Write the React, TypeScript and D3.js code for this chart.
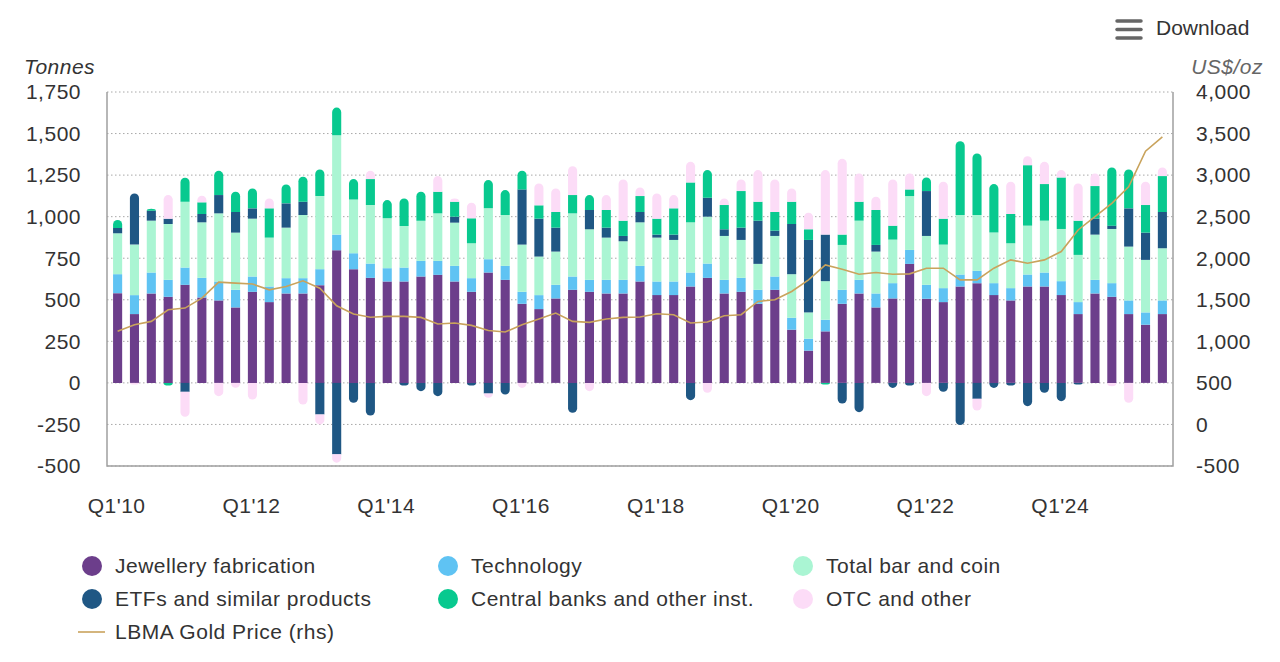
import { useMemo } from "react";
import * as d3 from "d3";

// Quarterly gold demand (tonnes), Q1'10 .. Q3'25
const quarters = [
  "Q1'10", "Q2'10", "Q3'10", "Q4'10", "Q1'11", "Q2'11", "Q3'11", "Q4'11",
  "Q1'12", "Q2'12", "Q3'12", "Q4'12", "Q1'13", "Q2'13", "Q3'13", "Q4'13",
  "Q1'14", "Q2'14", "Q3'14", "Q4'14", "Q1'15", "Q2'15", "Q3'15", "Q4'15",
  "Q1'16", "Q2'16", "Q3'16", "Q4'16", "Q1'17", "Q2'17", "Q3'17", "Q4'17",
  "Q1'18", "Q2'18", "Q3'18", "Q4'18", "Q1'19", "Q2'19", "Q3'19", "Q4'19",
  "Q1'20", "Q2'20", "Q3'20", "Q4'20", "Q1'21", "Q2'21", "Q3'21", "Q4'21",
  "Q1'22", "Q2'22", "Q3'22", "Q4'22", "Q1'23", "Q2'23", "Q3'23", "Q4'23",
  "Q1'24", "Q2'24", "Q3'24", "Q4'24", "Q1'25", "Q2'25", "Q3'25",
];

const jewellery = [
  540, 414, 538, 518, 590, 514, 496, 454, 548, 486, 538, 538, 588, 798, 684, 632,
  610, 610, 640, 650, 610, 548, 664, 620, 476, 444, 508, 560, 548, 538, 538, 610,
  528, 528, 580, 632, 538, 548, 476, 560, 320, 194, 310, 476, 538, 454, 508, 716,
  506, 486, 580, 600, 528, 496, 580, 580, 528, 414, 538, 518, 414, 350, 414,
];
const technology = [
  114, 114, 126, 102, 104, 118, 114, 106, 92, 94, 92, 92, 96, 94, 96, 86,
  80, 84, 94, 84, 94, 82, 80, 84, 72, 84, 82, 80, 72, 82, 82, 94,
  82, 82, 84, 86, 82, 84, 84, 80, 72, 72, 70, 84, 82, 84, 92, 84,
  84, 84, 72, 74, 72, 74, 72, 84, 84, 72, 82, 82, 82, 74, 82,
];
const barCoin = [
  246, 304, 312, 336, 396, 334, 410, 344, 348, 294, 304, 380, 440, 598, 324, 352,
  300, 250, 242, 286, 260, 210, 306, 306, 284, 232, 200, 380, 304, 254, 232, 262,
  264, 250, 302, 282, 264, 228, 156, 244, 262, 158, 232, 270, 356, 252, 262, 324,
  294, 262, 358, 336, 304, 270, 294, 312, 314, 284, 272, 326, 324, 316, 314,
];
const etfs = [
  32, 308, 60, 32, -54, 50, 110, 124, 62, 0, 146, 80, -190, -430, -120, -196,
  0, -16, -50, -80, 36, -16, -64, -70, 332, 228, 144, -180, 116, 60, 32, 62,
  18, 32, -104, 114, 40, 74, 260, 32, 302, 436, 280, -124, -176, 40, -30, -16,
  270, -54, -254, -96, -30, -16, -140, -60, -110, -10, 96, 20, 230, 164, 218,
];
const centralBanks = [
  48, 0, 12, -16, 144, 70, 146, 122, 120, 176, 114, 150, 160, 166, 122, 156,
  110, 166, 174, 130, 90, 150, 170, 150, 112, 80, 94, 110, 90, 106, 92, 96,
  96, 158, 240, 166, 146, 220, 114, 112, 134, 64, -10, 62, 114, 210, 84, 40,
  82, 156, 444, 370, 292, 176, 364, 220, 310, 206, 196, 350, 234, 166, 216,
];
const otc = [
  0, -10, 0, 142, -150, 40, -80, -30, -100, 60, 0, -130, -60, -50, 0, 50,
  0, 0, 0, 94, 20, 94, -26, 0, -30, 132, 142, 174, -50, 90, 248, 52,
  152, 80, 124, -60, 40, 70, 190, 196, 80, 100, 388, 456, 170, 80, 278, 96,
  -80, 222, 0, -70, 0, 194, 54, 134, 44, 224, 76, -20, -120, 140, 52,
];
// LBMA gold price, US$/oz (right axis)
const goldPrice = [
  1120, 1200, 1240, 1380, 1400, 1520, 1712, 1700, 1690, 1620, 1660, 1728, 1640, 1428, 1328, 1290,
  1300, 1300, 1288, 1208, 1220, 1192, 1130, 1112, 1200, 1268, 1340, 1240, 1228, 1268, 1288, 1292,
  1332, 1320, 1220, 1232, 1308, 1320, 1480, 1500, 1600, 1740, 1920, 1868, 1808, 1828, 1808, 1812,
  1880, 1880, 1740, 1740, 1880, 1980, 1940, 1980, 2080, 2340, 2500, 2660, 2860, 3288, 3460,
];

const leftTicks = [-500, -250, 0, 250, 500, 750, 1000, 1250, 1500, 1750];
const rightTicks = [-500, 0, 500, 1000, 1500, 2000, 2500, 3000, 3500, 4000];
const xTickLabels = ["Q1'10", "Q1'12", "Q1'14", "Q1'16", "Q1'18", "Q1'20", "Q1'22", "Q1'24"];

const series = [
  { key: "jewellery", name: "Jewellery fabrication", color: "#6c3e8b", values: jewellery },
  { key: "technology", name: "Technology", color: "#5fc3f3", values: technology },
  { key: "barCoin", name: "Total bar and coin", color: "#aaf5d3", values: barCoin },
  { key: "etfs", name: "ETFs and similar products", color: "#1f5784", values: etfs },
  { key: "centralBanks", name: "Central banks and other inst.", color: "#08c98f", values: centralBanks },
  { key: "otc", name: "OTC and other", color: "#fcdcf7", values: otc },
];
const lineColor = "#c9a35c";

const W = 1280;
const H = 662;
const plot = { left: 107, right: 1173, top: 92, bottom: 466 };
const font = "'Liberation Sans', Arial, Helvetica, sans-serif";
const fmt = (v: number) => d3.format(",")(v).replace("\u2212", "-");

// rect path with rounded top (dir=1) or rounded bottom (dir=-1)
function segPath(x: number, w: number, yTop: number, yBot: number, round: number) {
  const h = yBot - yTop;
  if (h <= 0) return "";
  const r = Math.min(w / 2, h);
  if (round === 1) {
    return `M${x},${yBot}V${yTop + r}A${w / 2},${r} 0 0 1 ${x + w},${yTop + r}V${yBot}Z`;
  }
  if (round === -1) {
    return `M${x},${yTop}V${yBot - r}A${w / 2},${r} 0 0 0 ${x + w},${yBot - r}V${yTop}Z`;
  }
  return `M${x},${yTop}H${x + w}V${yBot}H${x}Z`;
}

export default function App() {
  const x = d3
    .scaleBand<string>()
    .domain(quarters)
    .range([plot.left, plot.right])
    .paddingInner(0.46)
    .paddingOuter(0.36);
  const y = d3.scaleLinear().domain([-500, 1750]).range([plot.bottom, plot.top]);
  const y2 = d3.scaleLinear().domain([-500, 4000]).range([plot.bottom, plot.top]);

  const rows = useMemo(
    () =>
      quarters.map((q, i) => {
        const r: any = { q };
        series.forEach((s) => (r[s.key] = s.values[i]));
        return r;
      }),
    []
  );

  const stacked = d3
    .stack<any>()
    .keys(series.map((s) => s.key))
    .offset(d3.stackOffsetDiverging)(rows);

  const bw = x.bandwidth();

  // which series sits at the top / bottom end of every bar
  const topIdx: number[] = [];
  const botIdx: number[] = [];
  quarters.forEach((_, i) => {
    let tMax = 0, tI = -1, bMin = 0, bI = -1;
    stacked.forEach((layer, si) => {
      const [a, b] = layer[i];
      if (b > a && b > tMax) { tMax = b; tI = si; }
      if (a < b && a < bMin) { bMin = a; bI = si; }
      if (b < a && b < bMin) { bMin = b; bI = si; }
    });
    topIdx.push(tI);
    botIdx.push(bI);
  });

  const line = d3
    .line<number>()
    .x((_, i) => (x(quarters[i]) as number) + bw / 2)
    .y((d) => y2(d));

  const legendItems = [
    { ...series[0], lx: 92, ly: 566 },
    { ...series[1], lx: 448, ly: 566 },
    { ...series[2], lx: 803, ly: 566 },
    { ...series[3], lx: 92, ly: 599 },
    { ...series[4], lx: 448, ly: 599 },
    { ...series[5], lx: 803, ly: 599 },
  ];

  const txt = { fontSize: 21, letterSpacing: 0.5, fill: "#333" };

  return (
    <svg
      width={W}
      height={H}
      style={{ position: "absolute", left: 0, top: 0, background: "#fff" }}
      fontFamily={font}
    >
      {/* download button */}
      <g stroke="#666" strokeWidth={3.5} strokeLinecap="round">
        <line x1={1117} x2={1141} y1={21} y2={21} />
        <line x1={1117} x2={1141} y1={29.5} y2={29.5} />
        <line x1={1117} x2={1141} y1={38} y2={38} />
      </g>
      <text x={1156} y={28} dy="0.35em" fontSize={21} fill="#333">Download</text>

      {/* axis titles */}
      <text x={24} y={67} dy="0.35em" {...txt} fontStyle="italic">Tonnes</text>
      <text x={1263} y={67} dy="0.35em" {...txt} fill="#666" fontStyle="italic" textAnchor="end">US$/oz</text>

      {/* grid */}
      {leftTicks.map((t) => (
        <line
          key={"g" + t}
          x1={plot.left}
          x2={plot.right}
          y1={y(t)}
          y2={y(t)}
          stroke="#a8a8a8"
          strokeWidth={1}
          strokeDasharray="1.5,2.5"
        />
      ))}

      {/* left ticks */}
      {leftTicks.map((t) => (
        <text key={"l" + t} x={81} y={y(t)} dy="0.35em" {...txt} textAnchor="end">
          {fmt(t)}
        </text>
      ))}
      {/* right ticks */}
      {rightTicks.map((t) => (
        <text key={"r" + t} x={1196} y={y2(t)} dy="0.35em" {...txt}>
          {fmt(t)}
        </text>
      ))}

      {/* bars */}
      {stacked.map((layer, si) => (
        <g key={series[si].key} fill={series[si].color}>
          {layer.map((d, i) => {
            const lo = Math.min(d[0], d[1]);
            const hi = Math.max(d[0], d[1]);
            if (hi - lo <= 0) return null;
            const round = topIdx[i] === si ? 1 : botIdx[i] === si ? -1 : 0;
            return (
              <path
                key={i}
                d={segPath(x(quarters[i]) as number, bw, y(hi), y(lo), round)}
              />
            );
          })}
        </g>
      ))}

      {/* gold price */}
      <path d={line(goldPrice) || ""} fill="none" stroke={lineColor} strokeWidth={1.6} />

      {/* frame */}
      <path
        d={`M${plot.left},${plot.top}V${plot.bottom}H${plot.right}V${plot.top}`}
        fill="none"
        stroke="#a0a0a0"
        strokeWidth={1.5}
      />

      {/* x labels */}
      {xTickLabels.map((q) => (
        <text
          key={q}
          x={(x(q) as number) + bw / 2 - 1}
          y={506}
          dy="0.35em"
          {...txt}
          textAnchor="middle"
        >
          {q}
        </text>
      ))}

      {/* legend */}
      {legendItems.map((it) => (
        <g key={it.key}>
          <circle cx={it.lx} cy={it.ly} r={10} fill={it.color} />
          <text x={it.lx + 23} y={it.ly} dy="0.35em" {...txt}>
            {it.name}
          </text>
        </g>
      ))}
      <line x1={78} x2={105} y1={632} y2={632} stroke={lineColor} strokeWidth={1.6} />
      <text x={115} y={632} dy="0.35em" {...txt}>LBMA Gold Price (rhs)</text>
    </svg>
  );
}
